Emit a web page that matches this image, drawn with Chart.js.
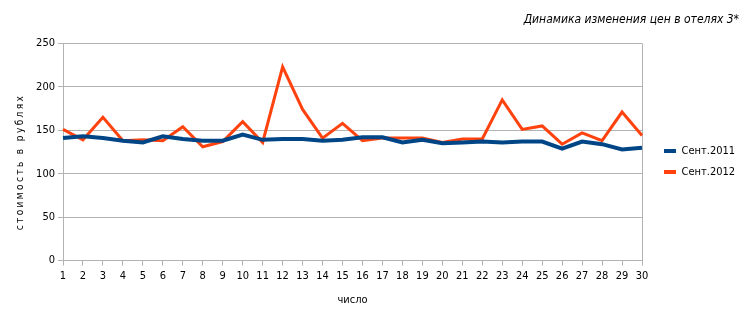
<!DOCTYPE html>
<html>
<head>
<meta charset="utf-8">
<script src="https://cdn.jsdelivr.net/npm/chart.js@4"></script>
<style>
  html, body { margin: 0; padding: 0; background: #fff; }
  #wrap { width: 745px; height: 325px; }
</style>
</head>
<body>
<div id="wrap"><canvas id="priceChart"></canvas></div>
<script>
// days of the month
const days = ['1','2','3','4','5','6','7','8','9','10','11','12','13','14','15','16','17','18','19','20','21','22','23','24','25','26','27','28','29','30'];
// prices, Sept 2011
const sept2011 = [141,143,141,138,136,143,140,138,138,145,139,140,140,138,139,142,142,136,139,135,136,137,136,137,137,129,137,134,128,130];
// prices, Sept 2012
const sept2012 = [151,139,165,138,139,138,154,131,137,160,136,223,174,141,158,138,141,141,141,136,140,140,185,151,155,134,147,138,171,144];
const yTicks = [0, 50, 100, 150, 200, 250];

const FONT = '"DejaVu Sans Condensed", "Liberation Sans", sans-serif';
const GRID = '#b3b3b3';

// y-axis caption drawn by hand so the letters can be spaced out like the original
const yCaption = {
    id: 'yCaption',
    afterDraw(chart) {
        const c = chart.ctx;
        const area = chart.chartArea;
        c.save();
        c.translate(20, (area.top + area.bottom) / 2 + 10);
        c.rotate(-Math.PI / 2);
        c.font = '10px ' + FONT;
        c.letterSpacing = '2.4px';
        c.fillStyle = '#000';
        c.textAlign = 'center';
        c.textBaseline = 'middle';
        c.fillText('стоимость в рублях', 0, 0);
        c.restore();
    }
};

// keep the legend a fixed width and nudge it away from the plot
const legendPlace = {
    id: 'legendPlace',
    beforeLayout(chart) {
        const lg = chart.legend;
        if (lg && !lg._wrapped) {
            const fit = lg.fit;
            lg.fit = function() { fit.call(this); this.width = 97; };
            lg._wrapped = true;
        }
    },
    afterLayout(chart) {
        const lg = chart.legend;
        lg.left += 12; lg.right += 12;
        lg.top += 8; lg.bottom += 8;
    }
};

const ctx = document.getElementById('priceChart').getContext('2d');
new Chart(ctx, {
    type: 'line',
    data: {
        labels: days,
        datasets: [
            {
                label: 'Сент.2011',
                data: sept2011,
                borderColor: '#004586',
                backgroundColor: '#004586',
                borderWidth: 4,
                pointRadius: 0,
                tension: 0
            },
            {
                label: 'Сент.2012',
                data: sept2012,
                borderColor: '#ff420e',
                backgroundColor: '#ff420e',
                borderWidth: 3,
                pointRadius: 0,
                tension: 0
            }
        ]
    },
    options: {
        responsive: true,
        maintainAspectRatio: false,
        animation: false,
        layout: { padding: { left: 0, right: 6, top: 0, bottom: 18 } },
        plugins: {
            title: {
                display: true,
                text: 'Динамика изменения цен в отелях 3*',
                align: 'end',
                color: '#000',
                font: { family: FONT, size: 12, style: 'italic', weight: 'normal' },
                padding: { top: 13, bottom: 16 }
            },
            legend: {
                position: 'right',
                align: 'center',
                labels: {
                    color: '#000',
                    font: { family: FONT, size: 11 },
                    boxWidth: 12,
                    boxHeight: 4,
                    padding: 10,
                    generateLabels: chart => Chart.defaults.plugins.legend.labels.generateLabels(chart)
                        .map(item => Object.assign(item, { lineWidth: 0 }))
                }
            },
            tooltip: { enabled: false }
        },
        scales: {
            x: {
                offset: false,
                grid: {
                    color: c => (c.index === days.length - 1 ? GRID : 'rgba(0,0,0,0)'),
                    tickColor: GRID,
                    tickLength: 5
                },
                border: { color: GRID },
                ticks: {
                    color: '#000',
                    font: { family: FONT, size: 11 },
                    maxRotation: 0,
                    autoSkip: false,
                    padding: 4
                },
                title: {
                    display: true,
                    text: 'число',
                    color: '#000',
                    font: { family: FONT, size: 11 },
                    padding: { top: 7, bottom: 0 }
                }
            },
            y: {
                min: 0,
                max: 250,
                afterFit: s => { s.width = 63; },
                afterBuildTicks: s => { s.ticks = yTicks.map(v => ({ value: v })); },
                grid: { color: GRID, tickColor: GRID, tickLength: 5 },
                border: { color: GRID },
                ticks: {
                    color: '#000',
                    font: { family: FONT, size: 11 },
                    padding: 3
                }
            }
        }
    },
    plugins: [yCaption, legendPlace]
});
</script>
</body>
</html>
